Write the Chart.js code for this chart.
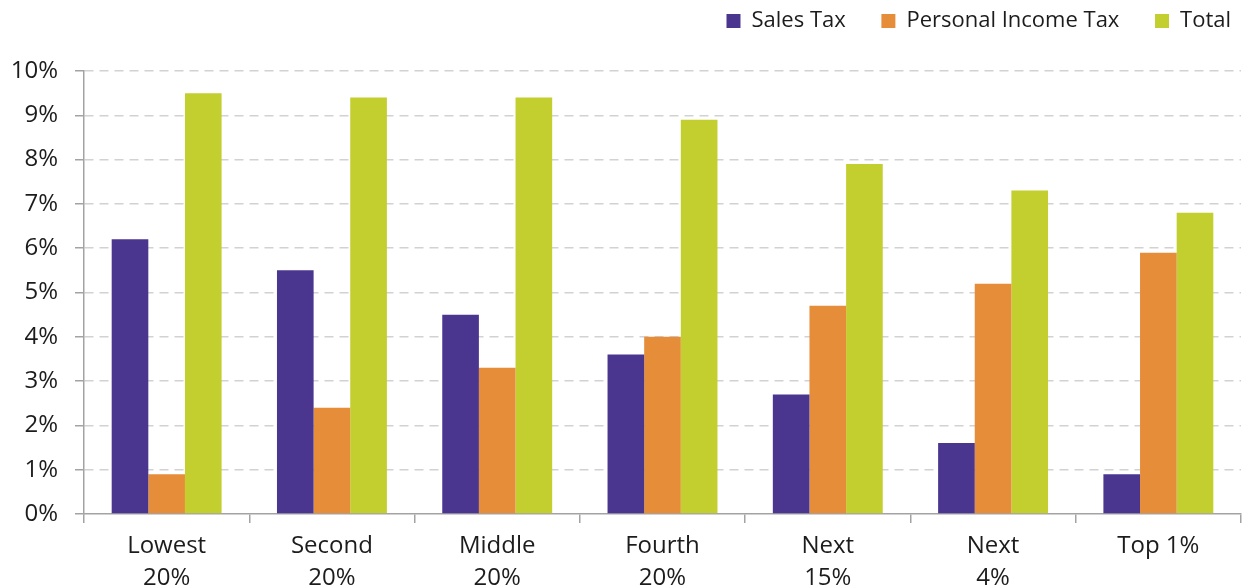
<!DOCTYPE html>
<html>
<head>
<meta charset="utf-8">
<script src="https://cdn.jsdelivr.net/npm/chart.js@4"></script>
<style>
  html, body { margin: 0; padding: 0; background: #ffffff; }
  #wrap { width: 1248px; height: 588px; }
</style>
</head>
<body>
<div id="wrap"><canvas id="c" width="1248" height="588"></canvas></div>
<script>
const categories = [["Lowest", "20%"], ["Second", "20%"], ["Middle", "20%"], ["Fourth", "20%"], ["Next", "15%"], ["Next", "4%"], ["Top 1%"]];
const salesTax = [6.2, 5.5, 4.5, 3.6, 2.7, 1.6, 0.9];
const personalIncomeTax = [0.9, 2.4, 3.3, 4.0, 4.7, 5.2, 5.9];
const total = [9.5, 9.4, 9.4, 8.9, 7.9, 7.3, 6.8];
const seriesNames = ["Sales Tax", "Personal Income Tax", "Total"];
const yTicks = [0, 1, 2, 3, 4, 5, 6, 7, 8, 9, 10];

const FONT = "'Open Sans', 'Liberation Sans', sans-serif";
const AXIS = '#a3a3a3';
const GRID = '#d2d2d2';
const TEXT = '#1c1c1c';

new Chart(document.getElementById('c'), {
  type: 'bar',
  data: {
    labels: categories,
    datasets: [
      { label: seriesNames[0], data: salesTax, backgroundColor: '#4B368F' },
      { label: seriesNames[1], data: personalIncomeTax, backgroundColor: '#E68D3A' },
      { label: seriesNames[2], data: total, backgroundColor: '#C3CE2F' }
    ]
  },
  options: {
    responsive: false,
    animation: false,
    layout: { padding: { left: 0, right: 7, top: 0, bottom: 0 } },
    datasets: { bar: { categoryPercentage: 0.665, barPercentage: 1.0, borderWidth: 0 } },
    plugins: {
      tooltip: { enabled: false },
      legend: {
        position: 'top',
        align: 'end',
        labels: {
          boxWidth: 14,
          boxHeight: 14,
          padding: 10,
          color: TEXT,
          font: { family: FONT, size: 22 },
          generateLabels(chart) {
            const items = Chart.defaults.plugins.legend.labels.generateLabels(chart);
            items.forEach((it, i) => { if (i < items.length - 1) it.text = it.text + '\u2003\u2009'; });
            return items;
          }
        }
      },
      title: {
        display: true,
        text: '',
        weight: 500,
        position: 'top',
        font: { family: FONT, size: 10, lineHeight: 1 },
        padding: { top: 10, bottom: 9 }
      }
    },
    scales: {
      x: {
        offset: true,
        grid: {
          display: true,
          offset: true,
          drawOnChartArea: false,
          drawTicks: true,
          tickLength: 9,
          color: AXIS,
          tickColor: AXIS,
          lineWidth: 1.5,
          tickWidth: 1.5
        },
        border: { display: true, color: AXIS, width: 1.5 },
        ticks: {
          color: TEXT,
          font: { family: FONT, size: 24, lineHeight: 1.33 },
          padding: 7,
          maxRotation: 0,
          autoSkip: false
        },
        afterFit(scale) { scale.height = 74; }
      },
      y: {
        min: 0,
        max: 10,
        afterBuildTicks(scale) { scale.ticks = yTicks.map(v => ({ value: v })); },
        grid: {
          display: true,
          drawOnChartArea: true,
          drawTicks: true,
          tickLength: 9,
          color: (ctx) => (ctx.tick && ctx.tick.value === 0) ? 'rgba(0,0,0,0)' : GRID,
          lineWidth: 1.5,
          tickColor: AXIS,
          tickWidth: 1.5,
          tickBorderDash: []
        },
        border: { display: true, color: AXIS, width: 1.5, dash: [9, 6] },
        ticks: {
          color: TEXT,
          font: { family: FONT, size: 24 },
          padding: 17,
          callback: (v) => v + '%'
        },
        afterFit(scale) { scale.width = 84; }
      }
    }
  }
});
</script>
</body>
</html>
